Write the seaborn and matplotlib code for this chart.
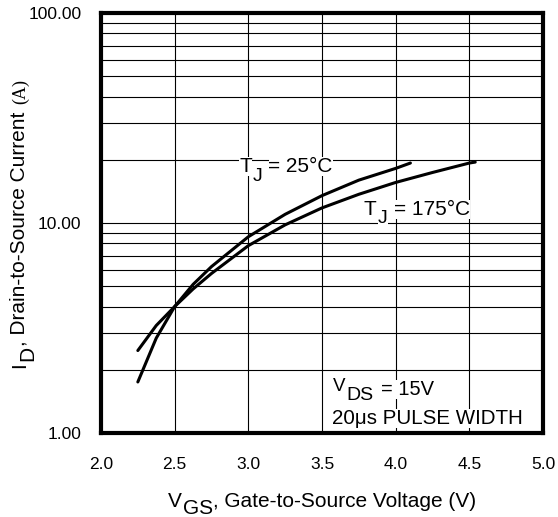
import numpy as np
import pandas as pd
import matplotlib
matplotlib.use("Agg")
import matplotlib.pyplot as plt
from matplotlib.ticker import FixedLocator, LogLocator, FormatStrFormatter, NullFormatter
from matplotlib.transforms import IdentityTransform
import seaborn as sns

# Transfer characteristics: drain current vs gate-source voltage
vgs_25 = [2.25, 2.375, 2.5, 2.625, 2.75, 3.0, 3.25, 3.5, 3.75, 4.0, 4.1]
id_25 = [1.75, 2.83, 4.0, 5.1, 6.2, 8.6, 11.0, 13.5, 16.0, 18.2, 19.3]
vgs_175 = [2.25, 2.375, 2.5, 2.625, 2.75, 3.0, 3.25, 3.5, 3.75, 4.0, 4.25, 4.5, 4.54]
id_175 = [2.47, 3.25, 4.0, 4.85, 5.75, 7.8, 9.8, 11.8, 13.7, 15.6, 17.4, 19.3, 19.5]

x_ticks = [2.0, 2.5, 3.0, 3.5, 4.0, 4.5, 5.0]
y_ticks = [1, 10, 100]

sns.set_theme(style="white")
plt.rcParams["font.family"] = ["Liberation Sans", "DejaVu Sans"]

W, H = 558, 517
fig = plt.figure(figsize=(W / 100, H / 100), dpi=100)
ax = fig.add_axes([101 / W, (H - 433) / H, 442 / W, 420 / H])

df = pd.DataFrame({
    "VGS": vgs_25 + vgs_175,
    "ID": id_25 + id_175,
    "TJ": ["25"] * len(vgs_25) + ["175"] * len(vgs_175),
})
sns.lineplot(data=df, x="VGS", y="ID", hue="TJ",
             palette={"25": "black", "175": "black"},
             estimator=None, sort=False, legend=False,
             linewidth=2.2, ax=ax, zorder=3)
for ln in ax.lines:
    ln.set_solid_joinstyle("round")
    ln.set_solid_capstyle("round")

ax.set_yscale("log")
ax.set_xlim(2, 5)
ax.set_ylim(1, 100)
ax.xaxis.set_major_locator(FixedLocator(x_ticks))
ax.xaxis.set_major_formatter(FormatStrFormatter("%.1f"))
ax.yaxis.set_major_locator(FixedLocator(y_ticks))
ax.yaxis.set_major_formatter(FormatStrFormatter("%.2f"))
ax.yaxis.set_minor_locator(LogLocator(base=10, subs=np.arange(2, 10)))
ax.yaxis.set_minor_formatter(NullFormatter())
ax.grid(which="both", color="black", linewidth=0.8, zorder=1)
ax.set_axisbelow(True)
ax.tick_params(which="both", length=0, labelsize=12.5, colors="black")
ax.tick_params(axis="x", pad=17)
ax.tick_params(axis="y", pad=14)
ax.set_xlabel("")
ax.set_ylabel("")
ax.set_facecolor("white")
for sp in ax.spines.values():
    sp.set_visible(True)
    sp.set_color("black")
    sp.set_linewidth(3)
    sp.set_zorder(5)


def rich_text(anchor, pieces, rotation=0, ha="left", box=False):
    """Lay out text runs side by side; each run may be dropped below the baseline."""
    r = np.deg2rad(rotation)
    u = np.array([np.cos(r), np.sin(r)])
    d = np.array([np.sin(r), -np.cos(r)])
    renderer = fig.canvas.get_renderer()
    arts, widths = [], []
    for text, gap, drop, size, family in pieces:
        kw = dict(transform=IdentityTransform(), ha="left", va="baseline",
                  rotation_mode="anchor", fontsize=size, family=family,
                  color="black", zorder=6)
        if box:
            kw["bbox"] = dict(facecolor="white", edgecolor="none", pad=0)
        t = fig.text(0, 0, text, **kw)
        widths.append(t.get_window_extent(renderer).width)
        arts.append(t)
    total = sum(w + p[1] for w, p in zip(widths, pieces))
    start = np.array(anchor, dtype=float)
    if ha == "center":
        start -= total / 2 * u
    pos = 0.0
    for t, w, (text, gap, drop, size, family) in zip(arts, widths, pieces):
        pos += gap
        p = start + pos * u + drop * d
        t.set_position((p[0], p[1]))
        t.set_rotation(rotation)
        pos += w


sans = ["Liberation Sans", "DejaVu Sans"]
serif = ["Liberation Serif", "DejaVu Serif"]

rich_text((239, H - 172), [("T", 0, 0, 15, sans), ("J", 1, 9, 14, sans),
                           ("= 25°C", 6, 0, 15, sans)], box=True)
rich_text((364, H - 215), [("T", 0, 0, 15, sans), ("J", 1, 8, 14, sans),
                           ("= 175°C", 6, 0, 15, sans)], box=True)
rich_text((333, H - 391), [("V", 0, 0, 13.5, sans), ("DS", 1, 9, 14, sans),
                           ("= 15V", 7, 4, 14.5, sans)], box=True)
rich_text((332, H - 424), [("20μs PULSE WIDTH", 0, 0, 14.8, sans)], box=True)

rich_text((322, H - 507), [("V", 0, 0, 15, sans), ("GS", 1, 7, 15, sans),
                           (", Gate-to-Source Voltage (V)", 0, 0, 15, sans)],
          ha="center")
rich_text((25, H - 223.5), [("I", 0, 0, 15, sans), ("D", 1, 8, 15, sans),
                            (", Drain-to-Source Current", 0, 0, 15, sans),
                            ("(A)", 8, 0, 13, serif)],
          rotation=90, ha="center")

fig.savefig("out.png", dpi=100, facecolor="white")
